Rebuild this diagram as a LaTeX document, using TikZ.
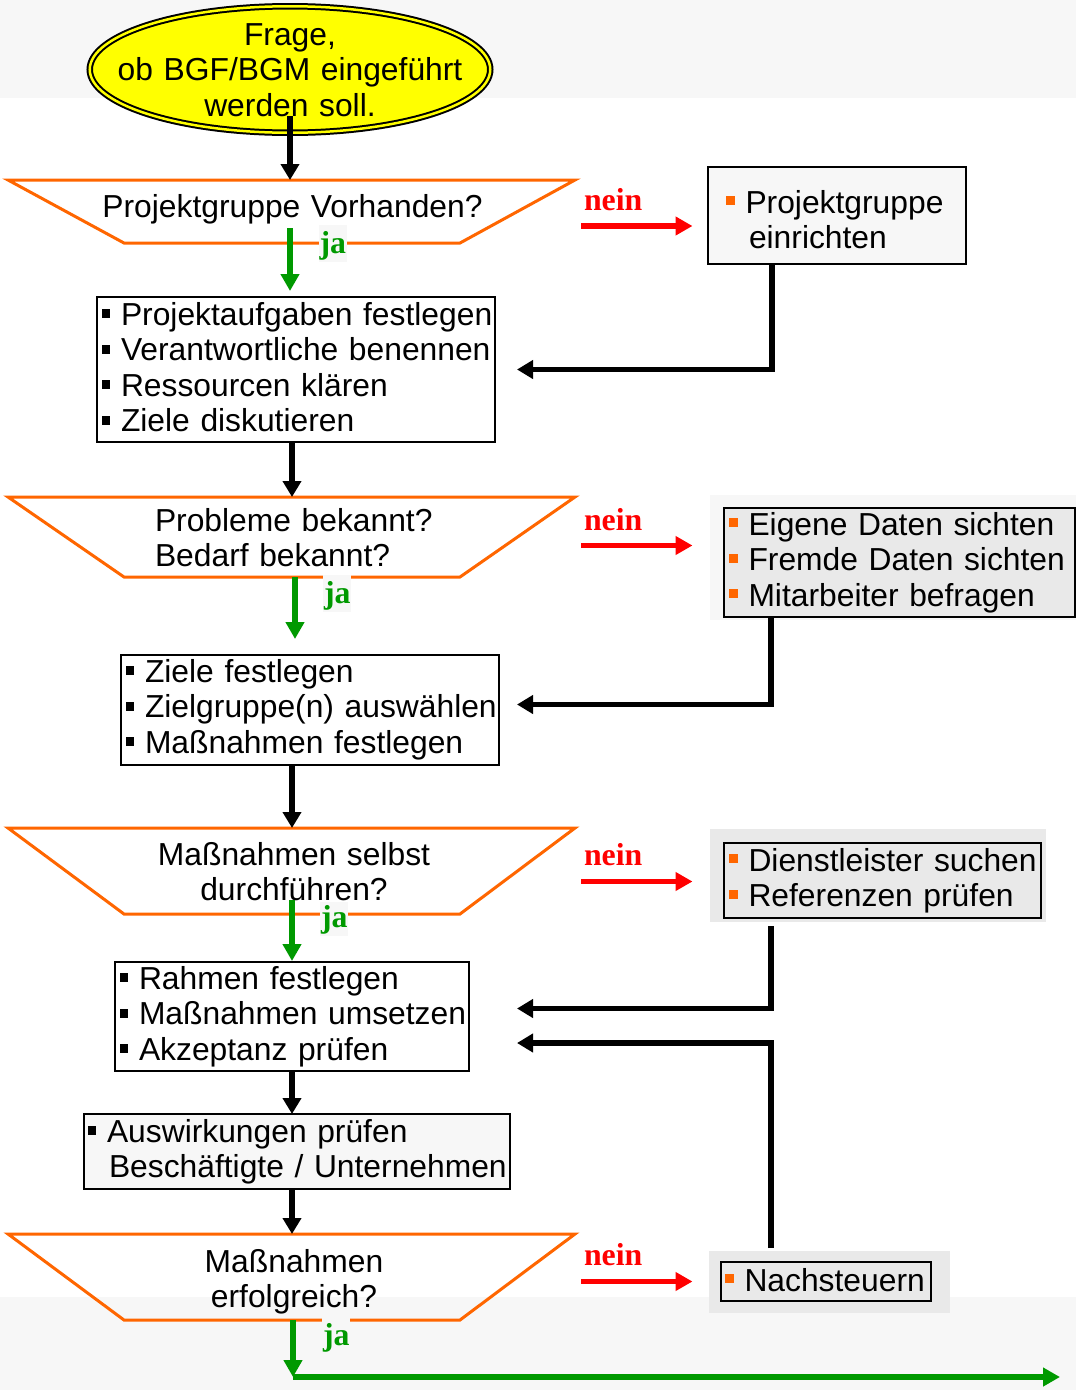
\documentclass[tikz,border=0pt]{standalone}
\usepackage{fontspec}
\setmainfont{Liberation Sans}
\newfontfamily\answerfont{Liberation Serif}
\usetikzlibrary{arrows.meta,calc,shapes.geometric}

\definecolor{flowOrange}{HTML}{FF6600}
\definecolor{flowGreen}{HTML}{009900}
\definecolor{flowRed}{HTML}{FF0000}
\definecolor{flowYellow}{HTML}{FFFF00}
\definecolor{paleGray}{HTML}{F7F7F7}
\definecolor{boxGray}{HTML}{E9E9E9}

\newcommand\blackbullet{{\color{black}\rule[7pt]{8pt}{9pt}}\hspace{11pt}}
\newcommand\orangebullet{{\color{flowOrange}\rule[8pt]{9pt}{9pt}}\hspace{10.5pt}}

\begin{document}
\begin{tikzpicture}[x=1pt,y=-1pt,
  every node/.style={font=\fontsize{31.8}{35.5}\selectfont, inner sep=0pt, outer sep=0pt},
  txt/.style={anchor=base west, align=left, text width=600pt},
  ctxt/.style={anchor=base, align=center, text width=500pt},
  box/.style={draw=black, line width=2.5pt, anchor=north west},
  backdrop/.style={anchor=north west},
  decision/.style={anchor=north west, minimum width=567pt},
  decisionline/.style={draw=flowOrange, line width=3pt, line join=miter},
  conn/.style={draw=black, line width=5.5pt, -{Triangle[length=16pt,width=18pt]}},
  yes/.style={draw=flowGreen, line width=5.5pt, -{Triangle[length=17pt,width=18pt]}},
  no/.style={draw=flowRed, line width=5.5pt, -{Triangle[length=17pt,width=18pt]}},
  jalabel/.style={anchor=base west, text=flowGreen, fill=paleGray, inner xsep=1pt,
    text height=28pt, text depth=9pt,
    font=\answerfont\bfseries\fontsize{31.8}{35.5}\selectfont},
  neinlabel/.style={anchor=base west, text=flowRed,
    font=\answerfont\bfseries\fontsize{31.8}{35.5}\selectfont}
]
\useasboundingbox (0,0) rectangle (1076,1390);
\fill[white] (0,0) rectangle (1076,1390);
\fill[paleGray] (0,0) rectangle (1076,98);
\fill[paleGray] (0,1297) rectangle (1076,1390);

% start ellipse
\node[ellipse, draw=black, line width=2pt, double=flowYellow, double distance=2.5pt,
      fill=flowYellow, minimum width=400.5pt, minimum height=126.5pt] (start) at (290,69.5) {};

% decision areas
\node[decision, minimum height=63pt] (q1) at (8,180) {};
\node[decision, minimum height=80pt] (q2) at (8,497) {};
\node[decision, minimum height=86pt] (q3) at (8,828) {};
\node[decision, minimum height=86pt] (q4) at (8,1234) {};
\foreach \q in {q1,q2,q3,q4}{
  \draw[decisionline] (\q.north west) -- (\q.north east)
    -- ($(\q.south east)+(-115,0)$) -- ($(\q.south west)+(116,0)$) -- cycle;
}

% action boxes, left column
\node[box, fill=white, minimum width=398pt, minimum height=145pt] (b2) at (97,297) {};
\node[box, fill=white, minimum width=378pt, minimum height=110pt] (b3) at (121,655) {};
\node[box, fill=white, minimum width=354pt, minimum height=109pt] (b4) at (115,962) {};
\node[box, fill=paleGray, minimum width=426pt, minimum height=75pt] (b5) at (84,1114) {};

% boxes, right column
\node[box, fill=paleGray, minimum width=258pt, minimum height=97pt] (pg) at (708,167) {};
\node[backdrop, fill=paleGray, minimum width=366pt, minimum height=125pt] (egback) at (710,495) {};
\node[box, fill=boxGray, minimum width=351pt, minimum height=109pt] (eg) at (724,508) {};
\node[backdrop, fill=boxGray, minimum width=336pt, minimum height=93pt] (dlback) at (710,829) {};
\node[box, fill=boxGray, minimum width=317pt, minimum height=75pt] (dl) at (724,843) {};
\node[backdrop, fill=boxGray, minimum width=241pt, minimum height=62pt] (nsback) at (709,1251) {};
\node[box, fill=boxGray, minimum width=210pt, minimum height=39pt] (ns) at (721,1262) {};

% texts
\node[ctxt] (starttext) at (290,45) {Frage,\\ob BGF/BGM eingeführt\\werden soll.};
\node[ctxt] (q1text) at (292.5,217) {Projektgruppe Vorhanden?};
\node[txt] (q2text) at (155,531) {Probleme bekannt?\\Bedarf bekannt?};
\node[ctxt] (q3text) at (294,865) {Maßnahmen selbst\\durchführen?};
\node[ctxt] (q4text) at (294,1272) {Maßnahmen\\erfolgreich?};

\node[txt] (pgtext) at (726,213) {\orangebullet Projektgruppe\\\hspace*{23pt}einrichten};
\node[txt] (b2text) at (102,325) {\blackbullet Projektaufgaben festlegen\\\blackbullet Verantwortliche benennen\\\blackbullet Ressourcen klären\\\blackbullet Ziele diskutieren};
\node[txt] (egtext) at (729,535) {\orangebullet Eigene Daten sichten\\\orangebullet Fremde Daten sichten\\\orangebullet Mitarbeiter befragen};
\node[txt] (b3text) at (126,682) {\blackbullet Ziele festlegen\\\blackbullet Zielgruppe(n) auswählen\\\blackbullet Maßnahmen festlegen};
\node[txt] (dltext) at (729,871) {\orangebullet Dienstleister suchen\\\orangebullet Referenzen prüfen};
\node[txt] (b4text) at (120,989) {\blackbullet Rahmen festlegen\\\blackbullet Maßnahmen umsetzen\\\blackbullet Akzeptanz prüfen};
\node[txt] (b5text) at (88,1142) {\blackbullet Auswirkungen prüfen\\\hspace*{21pt}Beschäftigte / Unternehmen};
\node[txt] (nstext) at (725,1291) {\orangebullet Nachsteuern};

% main flow
\draw[conn] ($(start.south)+(0,-16.5)$) -- (start.south |- q1.north);
\draw[conn] ($(b2.south)+(-4,0)$) -- ($(b2.south |- q2.north)+(-4,0)$);
\draw[conn] ($(b3.south)+(-18,0)$) -- ($(b3.south |- q3.north)+(-18,0)$);
\draw[conn] (b4.south) -- (b4.south |- b5.north);
\draw[conn] ($(b5.south)+(-5,0)$) -- ($(b5.south |- q4.north)+(-5,0)$);

% yes branches
\draw[yes] ($(q1.south)+(-1.5,-15)$) -- ($(q1.south |- b2.north)+(-1.5,-6)$);
\draw[yes] ($(q2.south)+(3.5,0)$) -- ($(q2.south |- b3.north)+(3.5,-16)$);
\draw[yes] ($(q3.south)+(0.5,-14)$) -- ($(q3.south |- b4.north)+(0.5,-1)$);
\coordinate (okcorner) at (293,1377);
\coordinate (okend) at (1060,1377);
\draw[yes] ($(q4.south)+(1.5,0)$) -- (okcorner);
\draw[yes] (okcorner) -- (okend);

\node[jalabel] (ja1) at (318.5,253) {ja};
\node[jalabel] (ja2) at (323,603) {ja};
\node[jalabel, text height=25pt] (ja3) at (320,927) {ja};
\node[jalabel] (ja4) at (322,1345) {ja};

% no branches
\node[neinlabel] (nein1) at (584,210) {nein};
\node[neinlabel] (nein2) at (584,530) {nein};
\node[neinlabel] (nein3) at (584,865) {nein};
\node[neinlabel] (nein4) at (584,1265) {nein};
\coordinate (no1a) at (581,226);    \coordinate (no1b) at (692.5,226);
\coordinate (no2a) at (581,545.5);  \coordinate (no2b) at (692.5,545.5);
\coordinate (no3a) at (581,881.5);  \coordinate (no3b) at (692.5,881.5);
\coordinate (no4a) at (581,1281.5); \coordinate (no4b) at (692.5,1281.5);
\draw[no] (no1a) -- (no1b);
\draw[no] (no2a) -- (no2b);
\draw[no] (no3a) -- (no3b);
\draw[no] (no4a) -- (no4b);

% returns into the main flow
\draw[conn] ($(pg.south)+(-65,0)$) |- ($(b2.east)+(22,0)$);
\draw[conn] ($(eg.south)+(-128.5,0)$) |- ($(b3.east)+(18,-5.5)$);
\draw[conn] ($(dl.south)+(-111.5,8)$) |- ($(b4.east)+(48,-8)$);
\draw[conn] ($(ns.north)+(-55,-14)$) |- ($(b4.east)+(48,26.5)$);
\end{tikzpicture}
\end{document}
